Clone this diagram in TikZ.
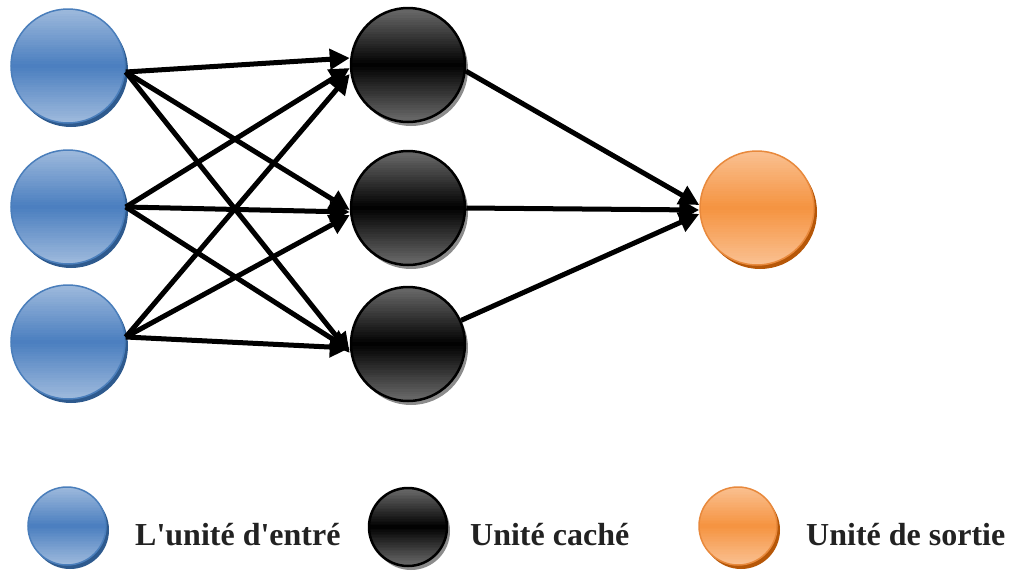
\documentclass[tikz,border=0pt]{standalone}
\usepackage{fontspec}
\newfontfamily\legendfont{Liberation Serif}
\usetikzlibrary{arrows.meta,shadows,calc}
\definecolor{inlight}{HTML}{9DB9DC}
\definecolor{inmid}{HTML}{4A7EBF}
\definecolor{inedge}{HTML}{4A7EBB}
\definecolor{inshadow}{HTML}{2E5A8E}
\definecolor{hidlight}{HTML}{6A6A6A}
\definecolor{hidmid}{HTML}{000000}
\definecolor{hidshadow}{HTML}{8C8C8C}
\definecolor{outlight}{HTML}{FAC090}
\definecolor{outmid}{HTML}{F59340}
\definecolor{outedge}{HTML}{E8893C}
\definecolor{outshadow}{HTML}{B65708}
\definecolor{labeltext}{HTML}{222222}
\tikzset{
  % vertical gradient: #1 in the middle band, #2 at top and bottom
  gradfill/.style 2 args={path picture={
    \foreach \k in {0,...,47} {
      \pgfmathsetmacro\t{min(100,abs(\k-23.5)/23.5*100)}
      \pgfmathsetmacro\fa{\k/48}
      \pgfmathsetmacro\fb{(\k+1.3)/48}
      \fill[#2!\t!#1]
        ($(path picture bounding box.north west)!\fa!(path picture bounding box.south west)$)
        rectangle
        ($(path picture bounding box.north east)!\fb!(path picture bounding box.south east)$);
    }}},
  unit/.style={circle, inner sep=0pt, minimum size=114pt},
  legendunit/.style={circle, inner sep=0pt, minimum size=78pt},
  inputunit/.style={draw=inedge, line width=1.5pt, gradfill={inmid}{inlight},
    drop shadow={shadow xshift=3pt, shadow yshift=-4pt, fill=inshadow, opacity=1}},
  hiddenunit/.style={draw=black, line width=2.5pt, gradfill={hidmid}{hidlight},
    drop shadow={shadow xshift=3pt, shadow yshift=-4pt, fill=hidshadow, opacity=1}},
  outputunit/.style={draw=outedge, line width=1.5pt, gradfill={outmid}{outlight},
    drop shadow={shadow xshift=3pt, shadow yshift=-4pt, fill=outshadow, opacity=1}},
  link/.style={line width=5pt, -{Triangle[length=20pt, width=20pt]}},
  legendtext/.style={anchor=base west, inner sep=0pt, text=labeltext,
    font=\legendfont\bfseries\fontsize{32}{38}\selectfont}
}
\begin{document}
\begin{tikzpicture}[x=1pt, y=-1pt]
\useasboundingbox (0,0) rectangle (1023,571);

% input layer
\node[unit, inputunit] (i1) at (68,66) {};
\node[unit, inputunit] (i2) at (68,207) {};
\node[unit, inputunit] (i3) at (68,342) {};

% hidden layer
\node[unit, hiddenunit] (h1) at (408,65) {};
\node[unit, hiddenunit] (h2) at (408,208) {};
\node[unit, hiddenunit] (h3) at (408,344) {};

% output layer
\node[unit, outputunit] (o) at (757,208) {};

% input -> hidden connections
\draw[link] ([yshift=-6pt]i1.east) -- ([yshift=7pt]h1.west);
\draw[link] ([yshift=-6pt]i1.east) -- ([yshift=-2pt]h2.west);
\draw[link] ([yshift=-6pt]i1.east) -- ([yshift=-9pt]h3.west);
\draw[link] (i2.east) -- ([yshift=-3pt]h1.west);
\draw[link] (i2.east) -- ([yshift=-4pt]h2.west);
\draw[link] (i2.east) -- ([yshift=-6pt]h3.west);
\draw[link] ([yshift=5pt]i3.east) -- ([yshift=-9pt]h1.west);
\draw[link] ([yshift=5pt]i3.east) -- ([yshift=-7pt]h2.west);
\draw[link] ([yshift=5pt]i3.east) -- ([yshift=-4pt]h3.west);

% hidden -> output connections
\draw[link] (h1.-6) -- ([yshift=3pt]o.west);
\draw[link] (h2.east) -- ([yshift=-2pt]o.west);
\draw[link] (h3.24) -- ([yshift=-6pt]o.west);

% legend
\node[legendunit, inputunit] (li) at (67,526) {};
\node[legendunit, hiddenunit] (lh) at (408,527) {};
\node[legendunit, outputunit] (lo) at (738,526) {};
\node[legendtext] (ti) at (135,545) {L'unité d'entré};
\node[legendtext] (th) at (470,545) {Unité caché};
\node[legendtext] (to) at (806,545) {Unité de sortie};
\end{tikzpicture}
\end{document}
